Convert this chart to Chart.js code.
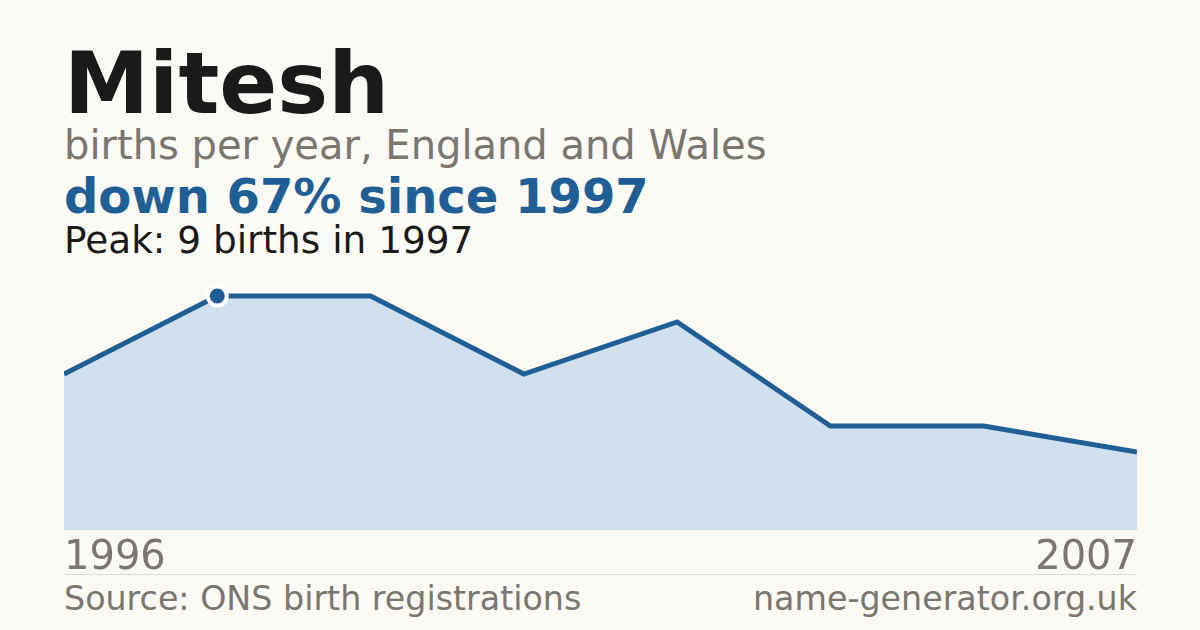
<!DOCTYPE html>
<html><head><meta charset="utf-8">
<script src="https://cdn.jsdelivr.net/npm/chart.js@4"></script>
<style>
html,body{margin:0;padding:0;background:#fbfaf5;}
#wrap{position:relative;width:1200px;height:630px;overflow:hidden;background:#fbfaf5;}
#txt{position:absolute;left:0;top:0;}
#cv{position:absolute;left:64px;top:270px;}
</style></head>
<body><div id="wrap">
<svg id="txt" width="1200" height="630" font-family="DejaVu Sans">
  <text x="64" y="113" font-size="85.5" font-weight="bold" fill="#1a1a1a">Mitesh</text>
  <text x="64" y="159" font-size="40" fill="#7a7670">births per year, England and Wales</text>
  <text x="64" y="213" font-size="48" font-weight="bold" fill="#1f5f96">down 67% since 1997</text>
  <text x="64" y="253" font-size="37.4" fill="#1a1a1a">Peak: 9 births in 1997</text>
  <line x1="64" y1="574.5" x2="1137" y2="574.5" stroke="#dddbd5" stroke-width="1"/>
  <text x="64" y="610" font-size="33.3" fill="#7a7670">Source: ONS birth registrations</text>
  <text x="1137" y="610" font-size="33.3" fill="#7a7670" text-anchor="end">name-generator.org.uk</text>
</svg>
<div id="cv"><canvas id="c" width="1073" height="318"></canvas></div>
</div>
<script>
const years = ['1996','1997','1998','2000','2002','2004','2005','2007'];
const births = [6, 9, 9, 6, 8, 4, 4, 3];
const peakIndex = 1;
const yMin = 0;
const yMax = 10;

const ctx = document.getElementById('c').getContext('2d');
new Chart(ctx, {
  type: 'line',
  data: {
    labels: years,
    datasets: [{
      data: births,
      borderColor: '#1f5f96',
      borderWidth: 5,
      backgroundColor: '#d0e0ef',
      fill: 'origin',
      tension: 0,
      pointRadius: births.map((v, i) => i === peakIndex ? 9.5 : 0),
      pointBackgroundColor: '#1f5f96',
      pointBorderColor: '#ffffff',
      pointBorderWidth: 4,
      pointHoverRadius: 0
    }]
  },
  options: {
    responsive: false,
    animation: false,
    events: [],
    layout: { padding: 0, autoPadding: false },
    plugins: { legend: { display: false }, tooltip: { enabled: false } },
    scales: {
      x: {
        display: true,
        offset: false,
        grid: { display: false, drawTicks: false },
        border: { display: false },
        ticks: {
          autoSkip: false,
          maxRotation: 0,
          align: 'inner',
          padding: 0,
          color: '#7a7670',
          font: { family: 'DejaVu Sans', size: 40, lineHeight: 1.45 },
          callback: function(v, i) { return (i === 0 || i === years.length - 1) ? years[i] : ''; }
        }
      },
      y: { display: false, min: yMin, max: yMax }
    }
  }
});
</script>
</body></html>
